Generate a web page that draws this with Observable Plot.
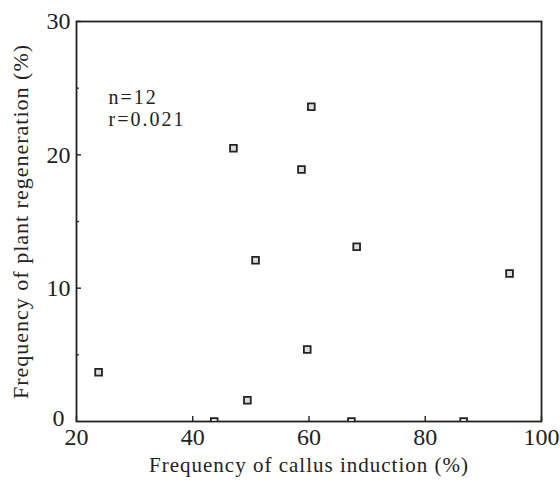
<!DOCTYPE html>
<html>
<head>
<meta charset="utf-8">
<script src="https://cdn.jsdelivr.net/npm/d3@7"></script>
<script src="https://cdn.jsdelivr.net/npm/@observablehq/plot@0.6"></script>
<style>
  html, body { margin: 0; padding: 0; background: #fff; }
  g[aria-label="x-axis label"] text { letter-spacing: 1px; }
  g[aria-label="y-axis label"] text { letter-spacing: 1px; }
  g[aria-label="text"] text { letter-spacing: 2px; }
</style>
</head>
<body>
<div id="chart"></div>
<script>
// Frequency of callus induction (%)
const callus = [23.8, 43.7, 47.0, 49.4, 50.8, 58.7, 59.7, 60.4, 67.3, 68.2, 86.6, 94.5];
// Frequency of plant regeneration (%)
const regen = [3.7, 0, 20.5, 1.6, 12.1, 18.9, 5.4, 23.6, 0, 13.1, 0, 11.1];
const xTicks = [20, 40, 60, 80, 100];
const yTicks = [10, 20, 30];
const yZero = [0];
const yMinor = [5, 15, 25];
const notes = ["n=12", "r=0.021"];

const data = callus.map((x, i) => ({x, y: regen[i]}));

const ink = "#222";
const chart = Plot.plot({
  width: 560,
  height: 487,
  marginLeft: 76,
  marginRight: 19,
  marginTop: 21,
  marginBottom: 66,
  style: {fontFamily: "'Liberation Serif', 'DejaVu Serif', serif", fontSize: "22px", color: ink, background: "#fff"},
  x: {domain: [20, 100]},
  y: {domain: [0, 30]},
  marks: [
    Plot.frame({stroke: ink, strokeWidth: 1.8}),
    Plot.axisX(xTicks, {tickSize: -5, tickPadding: 11, stroke: ink, strokeWidth: 1.4, fontSize: 24, label: null}),
    Plot.axisX({ticks: [], tickSize: 0, fontSize: 21,
      label: "Frequency of callus induction (%)", labelAnchor: "center", labelArrow: "none", labelOffset: 50}),
    Plot.axisY(yTicks, {tickSize: -5, tickPadding: 11, stroke: ink, strokeWidth: 1.4, fontSize: 24, label: null}),
    Plot.axisY(yZero, {tickSize: 0, tickPadding: 12, dy: -3, fontSize: 24, label: null}),
    Plot.axisY({ticks: [], tickSize: 0, fontSize: 22,
      label: "Frequency of plant regeneration (%)", labelAnchor: "center", labelArrow: "none", labelOffset: 64}),
    Plot.axisY(yMinor, {tickSize: -3, tickFormat: () => "", stroke: ink, strokeWidth: 1.2, label: null}),
    Plot.dot(data, {x: "x", y: "y", symbol: "square", r: 3.8, stroke: ink, strokeWidth: 1.8, fill: "#ddd", clip: true}),
    Plot.text([notes.join("\n")], {frameAnchor: "top-left", dx: 32, dy: 67, lineAnchor: "top", textAnchor: "start",
      fontSize: 20, lineHeight: 1.1, fill: ink})
  ]
});
document.getElementById("chart").appendChild(chart);
</script>
</body>
</html>
